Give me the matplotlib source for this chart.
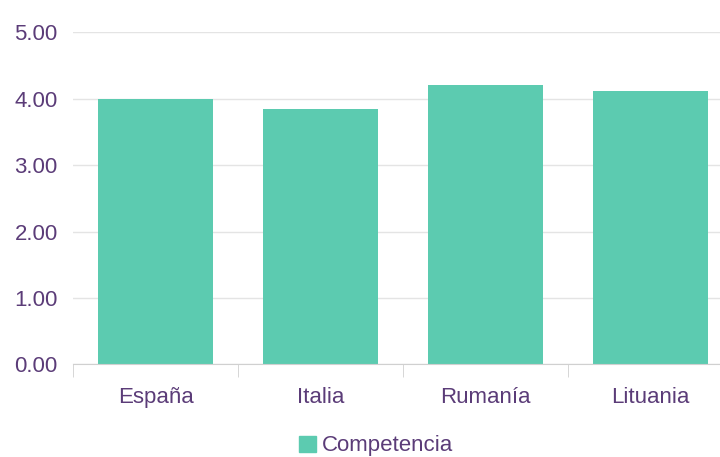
import matplotlib.pyplot as plt
from matplotlib.patches import Patch

# data
countries = ["España", "Italia", "Rumanía", "Lituania"]
competencia = [4.00, 3.85, 4.21, 4.11]
yticks = [0, 1, 2, 3, 4, 5]

bar_col = "#5ccbb0"
txt_col = "#5b3c78"
plt.rcParams["font.family"] = ["Liberation Sans", "DejaVu Sans"]

fig = plt.figure(figsize=(7.2, 4.57), dpi=100)
ax = fig.add_axes([73 / 720, 92.7 / 457, 660 / 720, 332 / 457])

x = range(len(countries))
ax.bar(x, competencia, width=0.7, color=bar_col, zorder=3)

ax.set_xlim(-0.5, len(countries) - 0.5)
ax.set_ylim(0, 5)
ax.set_yticks(yticks)
ax.set_yticklabels(["%.2f" % v for v in yticks])
ax.set_xticks(list(x))
ax.set_xticklabels(countries)
ax.set_xticks([i - 0.5 for i in range(len(countries) + 1)], minor=True)

ax.grid(axis="y", color="#e4e4e4", linewidth=1, zorder=0)
for s in ["top", "right", "left"]:
    ax.spines[s].set_visible(False)
ax.spines["bottom"].set_color("#d0d0d0")
ax.spines["bottom"].set_zorder(4)

ax.tick_params(axis="y", length=0, pad=11, labelsize=16, labelcolor=txt_col)
ax.tick_params(axis="x", which="major", length=0, pad=16, labelsize=16, labelcolor=txt_col)
ax.tick_params(axis="x", which="minor", length=9, color="#d0d0d0")

fig.legend(handles=[Patch(color=bar_col, label="Competencia")], loc="center",
           bbox_to_anchor=(376 / 720, 11 / 457), frameon=False, fontsize=16,
           labelcolor=txt_col, handlelength=0.75, handleheight=0.75, handletextpad=0.25)

fig.savefig("out.png", dpi=100)
